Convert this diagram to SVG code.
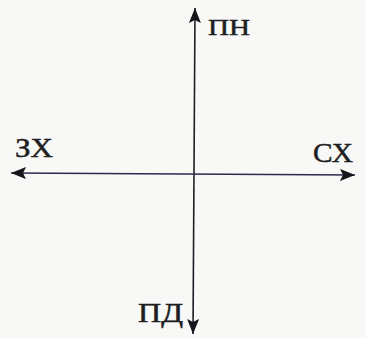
<svg xmlns="http://www.w3.org/2000/svg" width="366" height="338" viewBox="0 0 366 338">
<style>
.lbl{font-family:"Liberation Serif","Times New Roman",serif;fill:#1e1e22;stroke:#1e1e22;stroke-width:0.5;}
.axis{stroke:#1e1e26;stroke-width:1.6;fill:none;}
.haxis{stroke:#2e2850;}
</style>
<defs>
<marker id="ah" markerUnits="userSpaceOnUse" markerWidth="16" markerHeight="12" refX="15" refY="6" orient="auto-start-reverse">
<path d="M0,0 L15,6 L0,12 L3,6 z" fill="#15151c"/>
</marker>
</defs>
<rect width="366" height="338" fill="#f8f8f6"/>
<g id="connectors">
<line class="axis" x1="195" y1="8" x2="193" y2="334" marker-start="url(#ah)" marker-end="url(#ah)"/>
<line class="axis haxis" x1="11" y1="173" x2="355" y2="175" marker-start="url(#ah)" marker-end="url(#ah)"/>
</g>
<g id="node-pn"><text class="lbl" x="208" y="35" font-size="24" textLength="42" lengthAdjust="spacingAndGlyphs">ПН</text></g>
<g id="node-zkh"><text class="lbl" x="15" y="157" font-size="28" textLength="38" lengthAdjust="spacingAndGlyphs">ЗХ</text></g>
<g id="node-skh"><text class="lbl" x="313" y="162" font-size="28" textLength="40" lengthAdjust="spacingAndGlyphs">СХ</text></g>
<g id="node-pd"><text class="lbl" x="138" y="322" font-size="28" textLength="45" lengthAdjust="spacingAndGlyphs">ПД</text></g>
</svg>
